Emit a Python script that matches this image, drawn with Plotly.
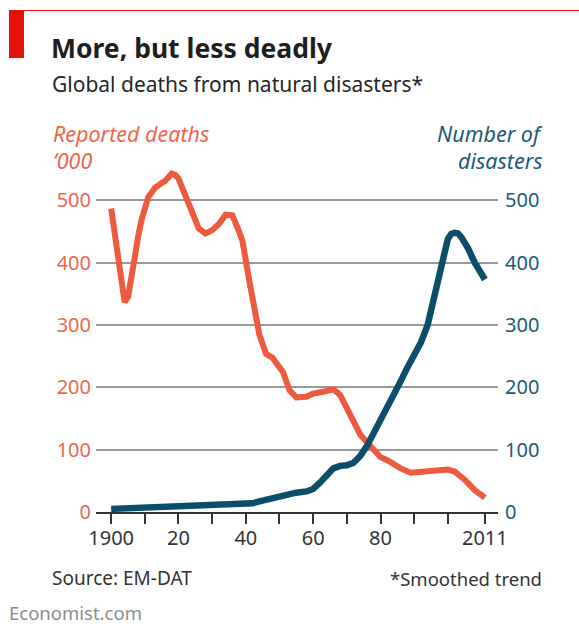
import plotly.graph_objects as go

# Smoothed reported deaths from natural disasters, thousands
death_years = [1900, 1904, 1905, 1906, 1907, 1908, 1909, 1911, 1913, 1915, 1916, 1918, 1919,
               1920, 1922, 1924, 1926, 1928, 1930, 1932, 1934, 1936, 1938, 1939, 1941, 1943,
               1944, 1946, 1948, 1950, 1951, 1953, 1955, 1958, 1960, 1963, 1966, 1968, 1970,
               1972, 1974, 1977, 1980, 1982, 1984, 1986, 1989, 1992, 1996, 2000, 2002, 2005,
               2008, 2011]
deaths_k = [487, 337, 345, 372, 408, 442, 468, 505, 520, 528, 531, 543, 541,
            535, 511, 482, 455, 447, 452, 462, 477, 476, 450, 435, 372, 318,
            285, 254, 247, 232, 225, 195, 184, 185, 190, 193, 197, 188, 168,
            148, 124, 106, 88, 83, 76, 70, 63, 64, 67, 68, 65, 52,
            35, 23]

# Smoothed number of reported natural disasters
count_years = [1900, 1910, 1920, 1930, 1937, 1940, 1942, 1944, 1946, 1948, 1950, 1952, 1955,
               1958, 1960, 1962, 1964, 1966, 1968, 1970, 1972, 1974, 1976, 1978, 1980, 1982,
               1984, 1986, 1988, 1990, 1992, 1994, 1995, 1996, 1997, 1998, 1999, 2000, 2001,
               2002, 2003, 2004, 2006, 2008, 2011]
disasters = [5, 7, 9, 10, 11, 12, 14, 17, 20, 23, 26, 28, 31,
             33, 37, 47, 60, 70, 74, 75, 79, 90, 106, 126, 148, 168,
             190, 210, 232, 252, 272, 300, 322, 348, 375, 395, 420, 438, 446,
             448, 447, 441, 423, 400, 373]

y_ticks = [0, 100, 200, 300, 400, 500]
x_ticks = [1900, 1910, 1920, 1930, 1940, 1950, 1960, 1970, 1980, 1990, 2000, 2011]
x_labels = ["1900", "", "20", "", "40", "", "60", "", "80", "", "", "2011"]

RED = "#EE5A3E"
RED_TEXT = "#F26548"
BLUE = "#0B4E69"
BLUE_TEXT = "#1B5A77"
FONT = "Noto Sans"

W, H = 579, 626
PL, PR, PT, PB = 96, 498, 163, 512


def fx(px):
    return (px - PL) / (PR - PL)


def fy(py):
    return (PB - py) / (PB - PT)


fig = go.Figure()
fig.add_trace(go.Scatter(x=death_years, y=deaths_k, mode="lines",
                         line=dict(color=RED, width=6), yaxis="y", showlegend=False))
fig.add_trace(go.Scatter(x=count_years, y=disasters, mode="lines",
                         line=dict(color=BLUE, width=6.5), yaxis="y2", showlegend=False))

fig.update_layout(
    width=W, height=H,
    margin=dict(l=PL, r=W - PR, t=PT, b=H - PB, pad=0),
    paper_bgcolor="white", plot_bgcolor="white",
    font=dict(family=FONT),
    xaxis=dict(range=[1895.5, 2014.9], tickvals=x_ticks, ticktext=x_labels,
               showgrid=False, zeroline=False, showline=True, linecolor="#333333",
               linewidth=2, ticks="outside", ticklen=10, tickwidth=2, tickcolor="#333333",
               tickfont=dict(size=20, color="#333333", family=FONT), ticklabelstandoff=-3),
    yaxis=dict(range=[0, 560], tickvals=y_ticks, showgrid=True, gridcolor="#999999",
               gridwidth=2, zeroline=False, showline=False, ticks="",
               tickfont=dict(size=20, color=RED_TEXT, family=FONT), ticklabelstandoff=4),
    yaxis2=dict(range=[0, 560], tickvals=y_ticks, overlaying="y", side="right",
                showgrid=False, zeroline=False, showline=False, ticks="",
                tickfont=dict(size=20, color=BLUE_TEXT, family=FONT), ticklabelstandoff=6),
)

shapes = [
    dict(type="rect", xref="paper", yref="paper", x0=fx(9), x1=fx(24), y0=fy(58), y1=fy(10),
         fillcolor="#E3120B", line=dict(width=0)),
    dict(type="line", xref="paper", yref="paper", x0=fx(9), x1=fx(579), y0=fy(10.5), y1=fy(10.5),
         line=dict(color="#E3120B", width=1)),
]
fig.update_layout(shapes=shapes)


def note(text, x, y, size, color, anchor="left", italic=False, yanchor="middle"):
    fig.add_annotation(text=text, xref="paper", yref="paper", x=fx(x), y=fy(y),
                       xanchor=anchor, yanchor=yanchor, showarrow=False, borderpad=0,
                       font=dict(size=size, color=color, family=FONT,
                                 style="italic" if italic else "normal"))


note("<b>More, but less deadly</b>", 50, 48, 26.5, "#1E1E1E")
note("Global deaths from natural disasters*", 51, 84, 21, "#262626")
note("Reported deaths", 52, 134, 21.5, RED_TEXT, italic=True)
note("‘000", 52, 160, 21.5, RED_TEXT, italic=True)
note("Number of", 544, 134, 21.5, BLUE_TEXT, anchor="right", italic=True)
note("disasters", 544, 160, 21.5, BLUE_TEXT, anchor="right", italic=True)
note("Source: EM-DAT", 51, 578, 19, "#333333")
note("*Smoothed trend", 543, 578, 18.5, "#333333", anchor="right")
note("Economist.com", 8, 626, 18.5, "#8C8C8C", yanchor="bottom")

fig.write_html("out.html")
